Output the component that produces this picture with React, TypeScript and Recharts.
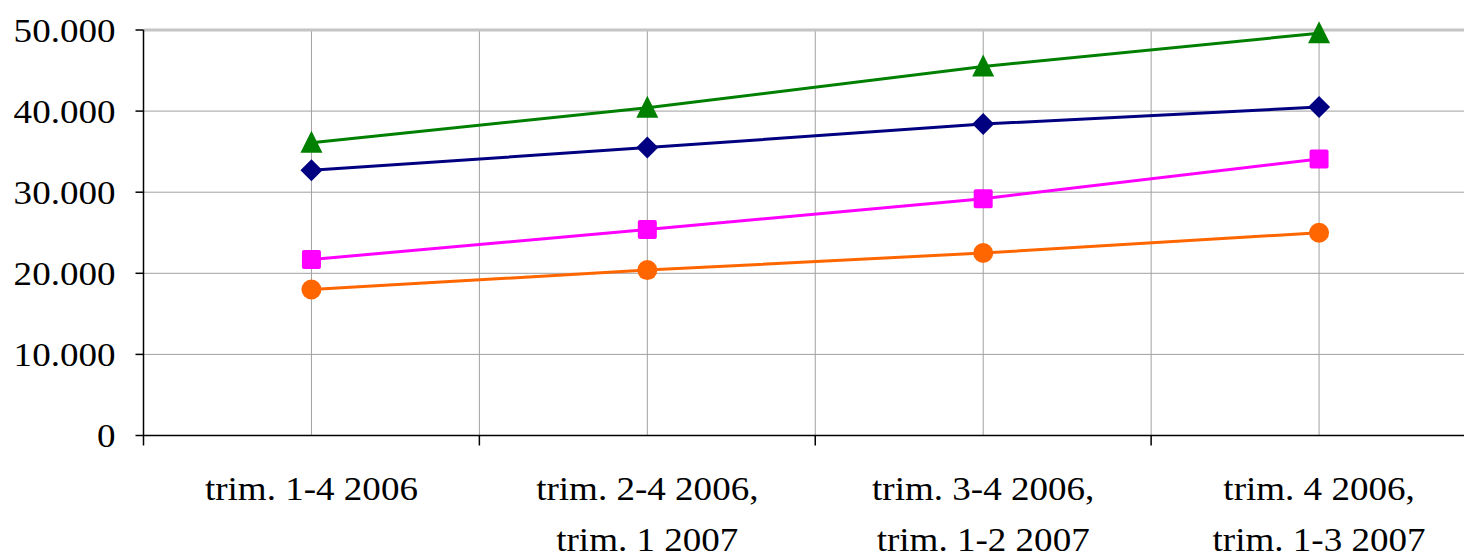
import { LineChart, Line, XAxis, YAxis, CartesianGrid, ReferenceLine } from 'recharts';

// category labels, one entry per line of text
const categories: string[][] = [
  ['trim. 1-4 2006'],
  ['trim. 2-4 2006,', 'trim. 1 2007'],
  ['trim. 3-4 2006,', 'trim. 1-2 2007'],
  ['trim. 4 2006,', 'trim. 1-3 2007'],
];

const greenValues = [36100, 40400, 45500, 49600];
const navyValues = [32700, 35500, 38400, 40500];
const magentaValues = [21700, 25400, 29200, 34100];
const orangeValues = [18000, 20400, 22500, 25000];

const yTicks = [0, 10000, 20000, 30000, 40000, 50000];
// integers = category centres (labels), halves = category boundaries (tick marks)
const xTicks = [-0.5, 0, 0.5, 1, 1.5, 2, 2.5, 3, 3.5];

const FONT = '"Liberation Serif", "Times New Roman", serif';
const FONT_SIZE = 34;
const STRETCH = 1.09;

const rows = categories.map((_, i) => ({
  x: i,
  green: greenValues[i],
  navy: navyValues[i],
  magenta: magentaValues[i],
  orange: orangeValues[i],
}));

function fmt(v: number): string {
  return String(v).replace(/\B(?=(\d{3})+(?!\d))/g, '.');
}

function YTick({ x, y, payload }: any) {
  return (
    <text
      transform={`translate(${x},${y}) scale(${STRETCH},1)`}
      textAnchor="end"
      dy="0.34em"
      fontFamily={FONT}
      fontSize={FONT_SIZE}
      fill="#000"
    >
      {fmt(payload.value)}
    </text>
  );
}

function XTick({ x, y, payload }: any) {
  const v = payload.value as number;
  if (!Number.isInteger(v)) {
    return <line x1={x} x2={x} y1={y} y2={y + 10} stroke="#000" strokeWidth={1.5} />;
  }
  const lines = categories[v] ?? [];
  return (
    <g>
      {lines.map((t, k) => (
        <text
          key={k}
          transform={`translate(${x},${y + 64.5 + k * 51}) scale(${STRETCH},1)`}
          textAnchor="middle"
          fontFamily={FONT}
          fontSize={FONT_SIZE}
          fill="#000"
        >
          {t}
        </text>
      ))}
    </g>
  );
}

const Diamond = ({ cx, cy }: any) => (
  <polygon
    points={`${cx},${cy - 11} ${cx + 11},${cy} ${cx},${cy + 11} ${cx - 11},${cy}`}
    fill="#000080"
  />
);

const Square = ({ cx, cy }: any) => (
  <rect x={cx - 9.5} y={cy - 9.5} width={19} height={19} rx={2} fill="#ff00ff" />
);

const Circle = ({ cx, cy }: any) => <circle cx={cx} cy={cy} r={10} fill="#ff6600" />;

const Triangle = ({ cx, cy }: any) => (
  <polygon
    points={`${cx},${cy - 12} ${cx + 11},${cy + 10} ${cx - 11},${cy + 10}`}
    fill="#008000"
  />
);

export default function App() {
  return (
    <div
      style={{
        position: 'absolute',
        left: 0,
        top: 0,
        width: 1464,
        height: 552,
        overflow: 'hidden',
        background: '#fff',
      }}
    >
      <LineChart width={1500} height={552} data={rows} margin={{ top: 30, right: 13, bottom: 0, left: 0 }}>
        <CartesianGrid stroke="#a0a0a0" strokeWidth={1} />
        <XAxis
          dataKey="x"
          type="number"
          domain={[-0.5, 3.5]}
          ticks={xTicks}
          interval={0}
          height={116.5}
          tickSize={0}
          tickMargin={0}
          tickLine={false}
          tick={<XTick />}
          axisLine={{ stroke: '#000', strokeWidth: 1.5 }}
        />
        <YAxis
          type="number"
          domain={[0, 50000]}
          ticks={yTicks}
          interval={0}
          width={143.5}
          tickSize={8}
          tickMargin={20}
          tickLine={{ stroke: '#000', strokeWidth: 1.5 }}
          tick={<YTick />}
          axisLine={{ stroke: '#000', strokeWidth: 1.5 }}
        />
        <ReferenceLine y={50000} stroke="#c4c4c4" strokeWidth={3} />
        <Line
          dataKey="navy"
          stroke="#000080"
          strokeWidth={3}
          dot={<Diamond />}
          activeDot={false}
          isAnimationActive={false}
        />
        <Line
          dataKey="magenta"
          stroke="#ff00ff"
          strokeWidth={3}
          dot={<Square />}
          activeDot={false}
          isAnimationActive={false}
        />
        <Line
          dataKey="orange"
          stroke="#ff6600"
          strokeWidth={3}
          dot={<Circle />}
          activeDot={false}
          isAnimationActive={false}
        />
        <Line
          dataKey="green"
          stroke="#008000"
          strokeWidth={3}
          dot={<Triangle />}
          activeDot={false}
          isAnimationActive={false}
        />
      </LineChart>
    </div>
  );
}
